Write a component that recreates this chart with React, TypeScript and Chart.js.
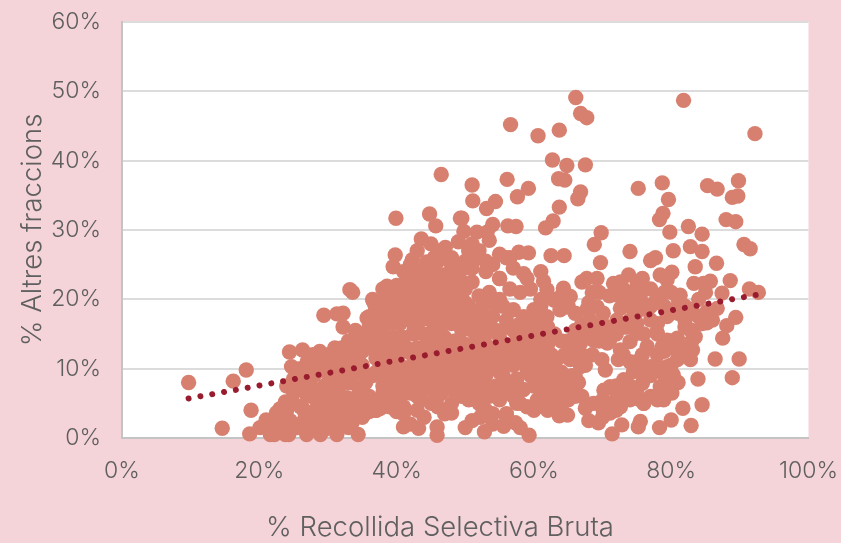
import React, { useEffect, useRef } from "react";
import { Chart, registerables } from "chart.js";

Chart.register(...registerables);

const xLabel = "% Recollida Selectiva Bruta";
const yLabel = "% Altres fraccions";
const trendX = [9.7, 92.7];
const trendY = [5.7, 20.7];

const xValues = [
  9.7,14.6,16.2,18.1,18.6,18.8,20.1,21,21.6,22.2,23.8,24.3,
  22.5,23,23.8,24,24.4,24.7,25,25.6,26,26.9,26.5,27,
  25.5,26.3,27,27.5,28,28.9,28.5,29,29.5,30,27.8,28.8,
  28,29,30,31.3,30.5,31,31.5,32,30,31,29.4,32.5,
  31.3,32.2,33.2,33.6,34.4,33,33.5,34,35,34.5,33,32.2,
  36.6,36.9,35.7,38.1,35,36,37,38,36,37,35.5,34.5,
  34,35,36,37,38,39,33.5,35,36.5,38,39.5,40,
  38.6,39.8,41.7,40,39.8,39.5,42.3,44.4,45.5,47.1,43.6,39.9,
  44.8,45.7,46.5,49.3,49.8,51.7,53.2,54,49.5,41,43.2,45.9,
  45.9,48,39,40,41,42,43,44,45,46,47,48,
  39,40.5,42,43.5,45,46.5,48,49.5,38.5,40,41.5,43,
  44.5,46,47.5,49,50.5,37.5,39,40.5,42,43.5,45,46.5,
  48,49.5,51,37,38.5,40,41.5,43,44.5,46,47.5,49,
  50.5,36.5,38,39.5,41,42.5,44,45.5,47,48.5,50,37.5,
  39,40.5,42,43.5,45,46.5,48,49.5,51,36,37.5,39,
  40.5,42,43.5,45,46.5,48,49.5,36.5,38,39.5,41,42.5,
  44,45.5,47,48.5,50,38,40,42,44,46,48,50,
  41,43,45,47,49,42,44,46,48,50,43,45,
  47,49,51,41.5,44,46.5,49,44.5,47,49.5,46,48.5,
  50,51,52,53,54,55,56,57,58,59,51.5,52.5,
  53.5,54.5,55.5,56.5,57.5,58.5,59.5,51,52,53,54,55,
  56,57,58,59,60,50.5,51.5,52.5,53.5,54.5,55.5,56.5,
  57.5,58.5,59.5,60.5,52,53,54,55,56,57,58,59,
  60,51,52.5,54,55.5,57,58.5,60,61,52,53.5,55,
  56.5,58,59.5,61,52.8,55.6,57.3,52.2,59.3,54,56,58,
  60,62,51,53,55,57,59,61,50,52,54,56,
  51.1,51,53.1,54.4,56.1,57.6,59.2,56.6,60.6,63.7,56.2,57.4,
  58.5,57.8,59.2,62.5,64.4,61.7,62.8,63.7,64.5,63.6,62.7,64.8,
  67.5,66.8,66.4,66.1,66.8,67.7,61.4,61.9,64.3,65.3,62.9,64.8,
  61.9,63.8,67.7,69.2,70.1,68.2,63,64,65,66,62,60,
  61,62,63,64,65,66,67,60.5,61.5,62.5,63.5,64.5,
  65.5,66.8,65.3,66.8,65.3,65.8,63.7,64.9,67.5,68.7,65,61,
  62,63,64,66,61.5,62.5,63.5,60,61,62.5,64,60.5,
  67.7,69.2,69.7,68.8,69.8,74,77,77.7,80.3,79.8,78.3,78.8,
  75.2,78.7,79.6,82.5,84.5,82.8,84.5,83.5,86.6,85.3,86.7,89.8,
  89.7,88.9,88,89.4,90.6,91.5,92.7,91.4,87.4,88.6,81.8,92.2,
  83.3,84.7,85.7,73.8,75.8,78.4,80.1,79.4,71.6,72.6,72.1,72.6,
  72.1,74.5,75.5,77.4,81.3,79.4,85.2,86.7,75,77.9,82.8,83.5,
  83.1,82.8,80.9,79.4,78.7,80.9,79.4,80.3,77.9,75.8,76.5,75,
  74,72.3,70.4,69.9,72.6,70.7,68.7,73.1,71.1,70.2,74.5,76,
  77,78.4,79.4,80.1,78.9,75.5,75.8,72.1,72.6,71.1,70.1,71.4,
  69.4,72.8,75.2,75.5,78.3,80,82.9,84.5,81.7,83.9,88.9,86.4,
  89.9,87.5,88.1,89.4,85.2,69,70,71,73.5,74.5,76.5,78,
  79,81,82,68,69.5,67,68.5,71,73,75,77,79,
  81,83,84.5,86,82,80,78,76,74,72,70,68,
  25,26,27,28,29,30,31,32,33,34,35,36,
  26.5,27.5,28.5,29.5,30.5,31.5,32.5,33.5,34.5,35.5,36.5,37.5,
  33,34,35,36,37,38,39,32,33.5,35,36.5,38,
  37,38,39,40,41,42,43,44,45,46,47,48,
  38.5,39.5,40.5,41.5,42.5,43.5,44.5,45.5,46.5,47.5,48.5,49.5,
  37,38,39,40,41,42,43,44,45,46,47,48,
  37.5,38.5,39.5,40.5,41.5,42.5,43.5,44.5,45.5,46.5,47.5,48.5,
  38,39.5,41,42.5,44,45.5,47,48.5,50,51,52,53,
  42,43.5,45,46.5,48,49.5,41,50.5,51.5,52.5,53.5,54.5,
  50.5,51.5,52.5,53.5,54.5,55.5,56.5,57.5,50,51,52,53,
  54,55,56,57,58,59,53,54.5,56,50,48,46,
  50.5,52,53.5,55,56.5,51,53,55,
  60,61,62,63,60.5,61.5,62.5,59,59.5,60,61,62,
  24.5,25.5,26.5,27.5,28.5,29.5,30.5,31.5,32.5,33.5,34.5,35.5,
  24,25,26,27,28,29,30,31,31.7,34,32.8,35,
  29,30,31,33,34,35,26,28,25,23,22,24,
  60.5,61.5,62.5,63.5,64.5,65.5,66.5,67.5,68.5,69.5,70.5,71.5,
  66,67,68,69,70,71,72,73,74,75,76,77,
  73,74,75,76,77,78,79,80,81,82,83,84,
  70,71,72,73,74,75,76,77,78,79,80,81,
  73,74,75,76,77,78,80,81,82,83,84,85,
  63,64,65,66,67,62,62,63,64,66,67,67.3,
];

const yValues = [
  8,1.4,8.2,9.8,0.6,4,1.5,2.6,0.5,0.5,0.5,0.5,
  3.6,4.2,5.2,4,12.4,10.3,6.5,7.5,4.5,0.5,2.5,6,
  9.5,12.7,11,8.8,10.5,0.5,3,5.5,7.5,9.2,12,12.5,
  1.8,2.5,4,0.5,2.5,5,7,9,12,11,17.7,10.5,
  17.9,18,21.4,21,0.5,1.5,3,5,3,6.5,14,16,
  19.7,19,17.3,16.6,3.6,3.8,4,4.5,6,5,8,11,
  12.5,14,15,13,14,12,8,9.5,9,7.5,6,4,
  21.9,21.7,23,18.7,26.4,24.7,25.7,25.4,26,27.5,28.7,31.7,
  32.3,30.6,38,31.7,29.8,29.7,29.7,30.8,31.7,1.6,1.4,1.6,
  0.4,3.6,4.5,3.8,3.5,2,4,3,5,4.5,3.5,5,
  5.5,6,6.5,5.5,7,6.5,7.5,6,8,8.5,8,8.5,
  8,9,9,8,7.5,10,10.5,10.5,10,11,10,11,
  10.5,9.5,9,12,13,12,12.5,13,12.5,13,12.5,11.5,
  11,14,15,14.5,14.5,15,15,14.5,14.5,14,13.5,16.5,
  17,16.5,17,17,17,16.5,16.5,16,15.5,17.5,18,18.5,
  18.5,19,19,19,18.5,18,17.5,20,20,20.5,20.5,20.5,
  21,20.5,20.5,20,19.5,21.5,22,22,22.5,22,22,21.5,
  24,23.5,24,23.5,23,25,24.5,25.5,25,24.5,27,28,
  26.5,28.3,28,23,21.5,23.5,25,19.5,20,21,16,23,
  1.5,2.5,5,4,3.5,5.5,3.5,6,5,4.5,7,8,
  6.5,7.5,9,8,8.5,7,9,8.5,10,9,10.5,9.5,
  11,10.5,11.5,10,11,12,12.5,11.5,13,12,13.5,12.5,
  14,13,13.5,14,14.5,15,15.5,14.5,16,15.5,16.5,15,
  16,16.5,18,17.5,19,18.5,17.5,18.5,19,20.5,21,20,
  21.5,21,21.5,20,0.9,1.7,2.2,3,0.4,2,3,1.5,
  4,4.5,22.5,24,23,24.5,23,24,25.5,26,25,26,
  34.2,36.5,33.1,34.1,37.3,34.8,36,45.2,43.6,44.4,30.6,30.5,
  23.7,26.8,26.7,26.3,26.3,30.3,31.3,33.3,37.2,37.4,40.1,39.3,
  39.4,35.5,34.5,49.1,46.8,46.2,22.6,21.4,21.6,20.4,19.9,18.9,
  17.5,18.5,18.5,18.9,18,17,20,20.5,19,18,16,15,
  15.5,14.5,15,14,14,15,14.5,13,12.5,12,11.5,12,
  11.5,10.3,11.3,13.7,12.5,7.9,3.2,3.3,4.3,5,5.5,9.5,
  9,10,8.5,9,7,6.5,7,7.5,5,5.5,6,4.5,
  23,23,25.3,27.9,29.6,26.9,25.6,26,27,29.7,31.5,32.4,
  36,36.8,34.4,30.5,29.4,27.6,26.9,24.7,25.2,36.4,35.9,37.1,
  34.9,34.7,31.5,31.2,27.9,27.3,21,21.5,20.9,22.7,48.7,43.9,
  22.3,22.3,22.6,23.5,23,23.5,23.9,22.8,22.3,22.5,20.6,18.7,
  17,20.4,20.2,19.4,20.6,17.5,18.2,18.7,18.2,15.3,15.6,14.6,
  12.7,11.3,14.4,14.1,13.2,11.3,10.3,9.1,10.3,12,13.2,15.1,
  13.9,11.3,9.8,11.3,12.7,13.7,14.1,8.4,7.4,6.9,9.6,8.8,
  10.3,7.4,7.9,6.5,5.5,5.5,7.9,6,4.5,3.6,4,0.6,
  2.2,1.9,1.6,2.4,1.5,2.6,1.8,4.8,4.3,8.5,8.7,11.4,
  11.4,14.4,16.2,17.4,16.6,16,16.5,15,16,17,18.5,16.5,
  19,18,17,19.5,21,22.5,21,20.5,21.5,22,19,21,
  19,18.5,16.5,17,16,14,15,5,5.5,4,3,2.5,
  8.5,10,7,9,11,7.5,9.5,12.5,8,10.5,6.5,9,
  4,3,5,3.5,6,3,5.5,3.5,5.5,4,5,4.2,
  12,15.5,12.5,16,11.5,15,10,13,14,10.5,13.5,10,
  4,6.5,5,7,4.5,7.5,6,7,8,6,7.5,7,
  12,13,14.5,13,15.5,13,14,16,15,13.5,12.5,15.5,
  9.5,9,10,9.5,9,10,9.5,10,9.5,9.8,9,9.5,
  16,17.5,16.5,18,17.5,18.5,18,19.5,17.5,19,18,18.5,
  11,11.5,12.5,11,11.5,12,11,12,12.5,13.5,14,13.5,
  20,21,22.5,23,20.5,22.5,22,19,17.5,19,20,19,
  5.5,6,4.5,6,7,6.5,7,5,7,8,9.5,10.5,
  11.5,12.5,11,12.5,11,12.5,16,15.5,17,25,26,27,
  27,27,28.5,23,26,24.5,25.5,26.5,
  12,11,12.5,10.5,9,8,10,10,14.5,16.5,17,13.5,
  2.5,1.5,4,1.5,4.5,1.2,5.5,2,3.8,2.2,4.3,3.6,
  7.5,8,7,8.5,7,6.5,6.5,8,9.5,9.5,5.8,6.5,
  10.5,11,13,12,12.5,13,9,9.5,5,2.2,1.8,1.5,
  5.5,6.5,4.5,7.5,8.5,9,8,10.5,12,14,15.5,16,
  15.5,16.5,15,16,15,14,15,16,17,16.5,15,17,
  12,11,11,10,9,12,12.5,13,12.5,13,14,17.5,
  5.5,5,7.5,6,7.5,6.5,5,6,5.5,9,10.5,8,
  20.5,19,21,19,21.5,20.5,21,20,19,18.5,20,21,
  8,9.5,7,6,6,6,4,4.5,4.5,8.5,12,11,
];

const textColor = "#5f5f5f";
const fontFamily = "Inter, Roboto, 'Liberation Sans', sans-serif";

const chartDecor = {
  id: "chartDecor",
  beforeDraw(chart: any) {
    const { ctx, chartArea: a } = chart;
    ctx.save();
    ctx.fillStyle = "#ffffff";
    ctx.fillRect(a.left, a.top, a.right - a.left, a.bottom - a.top);
    ctx.restore();
  },
  afterDraw(chart: any) {
    const { ctx } = chart;
    ctx.save();
    ctx.fillStyle = textColor;
    ctx.font = `300 27.5px ${fontFamily}`;
    ctx.textAlign = "center";
    ctx.textBaseline = "middle";
    ctx.fillText(xLabel, 440, 528);
    ctx.restore();
  },
};

const noScalePadding = (s: any) => {
  s.paddingTop = 0;
  s.paddingBottom = 0;
  s.paddingLeft = 0;
  s.paddingRight = 0;
};

export default function App() {
  const ref = useRef<HTMLCanvasElement>(null);
  useEffect(() => {
    document.body.style.margin = "0";
    document.body.style.background = "#f4d3d9";
    const n = Math.min(xValues.length, yValues.length);
    const pts = xValues.slice(0, n).map((x, i) => ({ x, y: yValues[i] }));
    const chart = new Chart(ref.current!, {
      type: "scatter",
      data: {
        datasets: [
          {
            type: "line",
            data: trendX.map((x, i) => ({ x, y: trendY[i] })),
            borderColor: "#991b2e",
            borderWidth: 6,
            borderCapStyle: "round",
            borderDash: [0.01, 12],
            pointRadius: 0,
            fill: false,
            order: 0,
          },
          {
            data: pts,
            backgroundColor: "#d88070",
            borderWidth: 0,
            pointRadius: 7.7,
            clip: false,
            order: 1,
          },
        ],
      } as any,
      options: {
        animation: false,
        responsive: false,
        layout: { autoPadding: false, padding: { top: 22, right: 32.5, left: 0, bottom: 0 } },
        plugins: { legend: { display: false }, tooltip: { enabled: false } },
        scales: {
          x: {
            type: "linear",
            min: 0,
            max: 100,
            afterFit: (s: any) => { s.height = 105; noScalePadding(s); },
            ticks: {
              stepSize: 20,
              callback: (v: any) => v + "%",
              color: textColor,
              font: { family: fontFamily, size: 23, weight: "300" },
              padding: 11,
              maxRotation: 0,
            },
            grid: { display: false },
            border: { color: "#c4c4c4", width: 2 },
          },
          y: {
            type: "linear",
            min: 0,
            max: 60,
            afterFit: (s: any) => { s.width = 122; noScalePadding(s); },
            ticks: {
              stepSize: 10,
              callback: (v: any) => v + "%",
              color: textColor,
              font: { family: fontFamily, size: 23, weight: "300" },
              padding: 21,
            },
            grid: { color: "#dcdcdc", lineWidth: 2, drawTicks: false },
            border: { color: "#c4c4c4", width: 2 },
            title: {
              display: true,
              text: yLabel,
              color: textColor,
              font: { family: fontFamily, size: 27.5, weight: "300" },
              padding: { top: 16, bottom: 0 },
            },
          },
        },
      },
      plugins: [chartDecor],
    } as any);
    return () => chart.destroy();
  }, []);
  return <canvas ref={ref} width={841} height={543} style={{ display: "block" }} />;
}
